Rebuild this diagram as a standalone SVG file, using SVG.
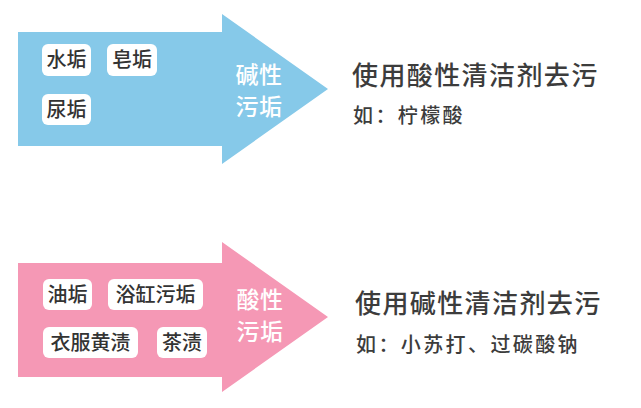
<svg xmlns="http://www.w3.org/2000/svg" width="641" height="408" viewBox="0 0 641 408">
<style>
.box{fill:#fff}
.bt{font-family:"Noto Sans CJK SC","Noto Sans",sans-serif;font-size:20px;font-weight:500;fill:#333;text-anchor:middle}
.at{font-family:"Noto Sans CJK SC","Noto Sans",sans-serif;font-size:23px;font-weight:500;fill:#fff;text-anchor:middle;letter-spacing:0.5px}
.h{font-family:"Noto Sans CJK SC","Noto Sans",sans-serif;font-size:26px;font-weight:500;fill:#3c3c3c;letter-spacing:1.4px}
.s{font-family:"Noto Sans CJK SC","Noto Sans",sans-serif;font-size:20px;font-weight:500;fill:#3c3c3c;letter-spacing:2.4px}
</style>
<rect width="641" height="408" fill="#fff"/>
<g id="alkaline">
<polygon points="18,32 222,32 222,14 328,89 222,164 222,146 18,146" fill="#86C9E9"/>
<g id="n-shuigou"><rect class="box" x="42" y="44" width="49" height="32" rx="6"/><text class="bt" x="66.5" y="67">水垢</text></g>
<g id="n-zaogou"><rect class="box" x="107" y="44" width="50" height="32" rx="6"/><text class="bt" x="132" y="67">皂垢</text></g>
<g id="n-niaogou"><rect class="box" x="42" y="94" width="49" height="31" rx="6"/><text class="bt" x="66.5" y="117">尿垢</text></g>
<text class="at" x="259" y="83">碱性</text>
<text class="at" x="259" y="115">污垢</text>
</g>
<g id="acidic">
<polygon points="18,263 222,263 222,242 328,317 222,392 222,377 18,377" fill="#F598B5"/>
<g id="n-yougou"><rect class="box" x="43" y="279" width="49" height="31" rx="6"/><text class="bt" x="67.5" y="302">油垢</text></g>
<g id="n-yugang"><rect class="box" x="108" y="279" width="95" height="31" rx="6"/><text class="bt" x="155.5" y="302">浴缸污垢</text></g>
<g id="n-yifu"><rect class="box" x="43" y="327" width="95" height="31" rx="6"/><text class="bt" x="90.5" y="350">衣服黄渍</text></g>
<g id="n-chazi"><rect class="box" x="157" y="327" width="50" height="31" rx="6"/><text class="bt" x="182" y="350">茶渍</text></g>
<text class="at" x="260" y="308">酸性</text>
<text class="at" x="260" y="340">污垢</text>
</g>
<g id="connectors"></g>
<g id="desc">
<text class="h" x="352" y="85">使用酸性清洁剂去污</text>
<text class="s" x="353" y="123">如：柠檬酸</text>
<text class="h" x="355" y="313">使用碱性清洁剂去污</text>
<text class="s" x="356" y="352">如：小苏打、过碳酸钠</text>
</g>
</svg>
